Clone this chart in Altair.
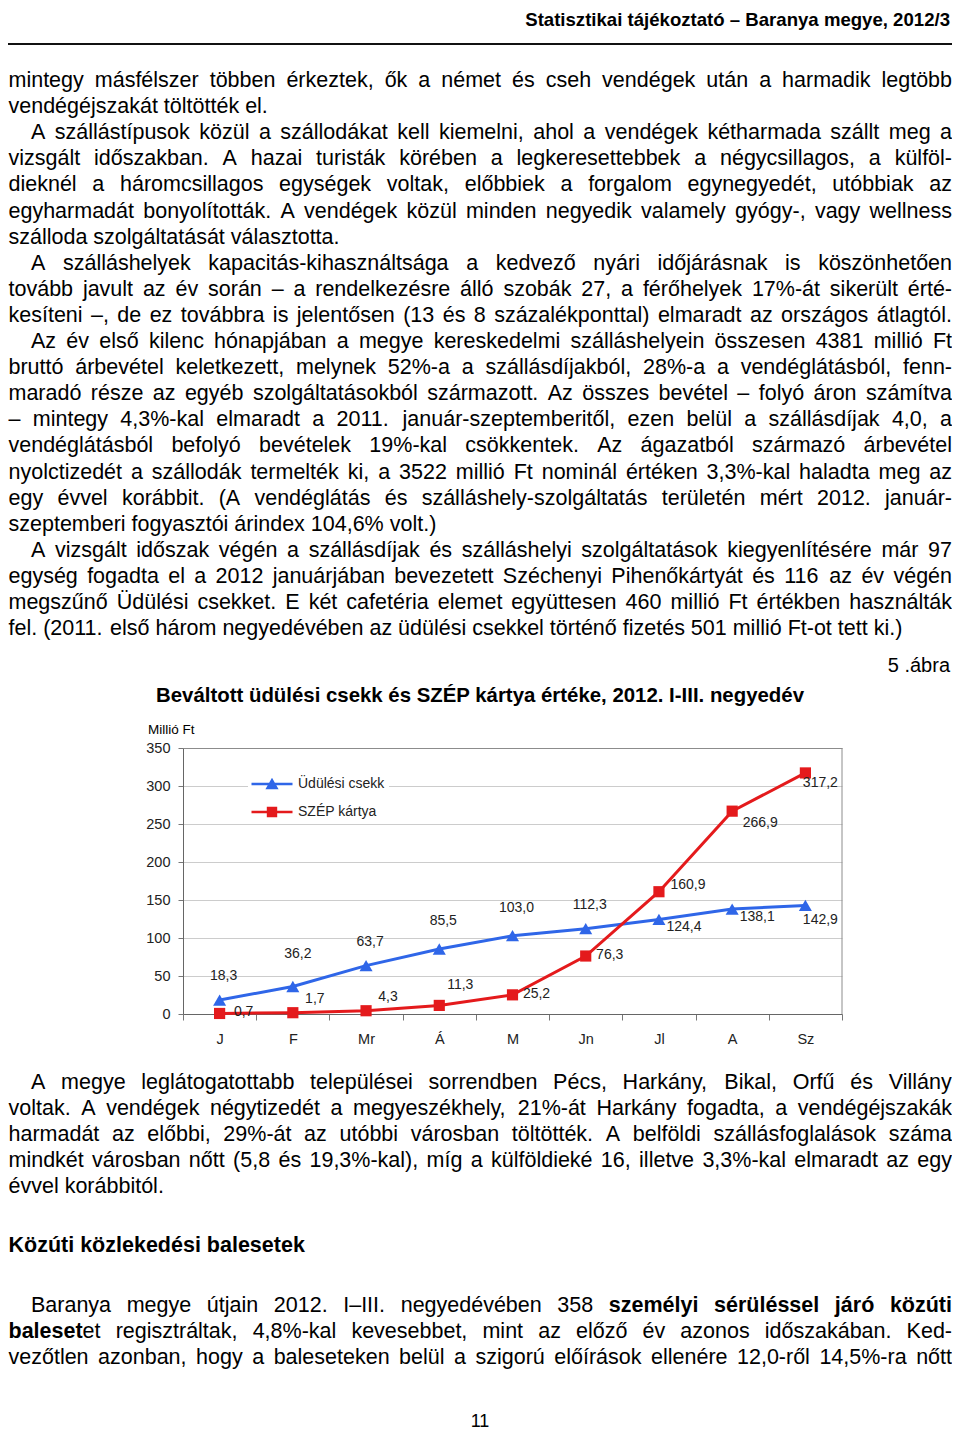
import unicodedata
import altair as alt
import pandas as pd

# ---------------- chart data ----------------
months = ["J", "F", "Mr", "Á", "M", "Jn", "Jl", "A", "Sz"]
udulesi_csekk = [18.3, 36.2, 63.7, 85.5, 103.0, 112.3, 124.4, 138.1, 142.9]
szep_kartya = [0.7, 1.7, 4.3, 11.3, 25.2, 76.3, 160.9, 266.9, 317.2]
series_names = ["Üdülési csekk", "SZÉP kártya"]
y_ticks = [0, 50, 100, 150, 200, 250, 300, 350]

# ---------------- page texts ----------------
header_text = "Statisztikai tájékoztató – Baranya megye, 2012/3"
figure_no = "5 .ábra"
chart_title = "Beváltott üdülési csekk és SZÉP kártya értéke, 2012. I-III. negyedév"
y_unit = "Millió Ft"
page_no = "11"
section_heading = "Közúti közlekedési balesetek"

upper_lines = [
    "mintegy másfélszer többen érkeztek, ők a német és cseh vendégek után a harmadik legtöbb",
    "vendégéjszakát töltötték el.",
    "A szállástípusok közül a szállodákat kell kiemelni, ahol a vendégek kétharmada szállt meg a",
    "vizsgált időszakban. A hazai turisták körében a legkeresettebbek a négycsillagos, a külföl-",
    "dieknél a háromcsillagos egységek voltak, előbbiek a forgalom egynegyedét, utóbbiak az",
    "egyharmadát bonyolították. A vendégek közül minden negyedik valamely gyógy-, vagy wellness",
    "szálloda szolgáltatását választotta.",
    "A szálláshelyek kapacitás-kihasználtsága a kedvező nyári időjárásnak is köszönhetően",
    "tovább javult az év során – a rendelkezésre álló szobák 27, a férőhelyek 17%-át sikerült érté-",
    "kesíteni –, de ez továbbra is jelentősen (13 és 8 százalékponttal) elmaradt az országos átlagtól.",
    "Az év első kilenc hónapjában a megye kereskedelmi szálláshelyein összesen 4381 millió Ft",
    "bruttó árbevétel keletkezett, melynek 52%-a a szállásdíjakból, 28%-a a vendéglátásból, fenn-",
    "maradó része az egyéb szolgáltatásokból származott. Az összes bevétel – folyó áron számítva",
    "– mintegy 4,3%-kal elmaradt a 2011. január-szeptemberitől, ezen belül a szállásdíjak 4,0, a",
    "vendéglátásból befolyó bevételek 19%-kal csökkentek. Az ágazatból származó árbevétel",
    "nyolctizedét a szállodák termelték ki, a 3522 millió Ft nominál értéken 3,3%-kal haladta meg az",
    "egy évvel korábbit. (A vendéglátás és szálláshely-szolgáltatás területén mért 2012. január-",
    "szeptemberi fogyasztói árindex 104,6% volt.)",
    "A vizsgált időszak végén a szállásdíjak és szálláshelyi szolgáltatások kiegyenlítésére már 97",
    "egység fogadta el a 2012 januárjában bevezetett Széchenyi Pihenőkártyát és 116 az év végén",
    "megszűnő Üdülési csekket. E két cafetéria elemet együttesen 460 millió Ft értékben használták",
    "fel. (2011. első három negyedévében az üdülési csekkel történő fizetés 501 millió Ft-ot tett ki.)",
]
upper_indented = [2, 7, 10, 18]
upper_ragged = [1, 6, 17, 21]

lower_lines = [
    "A megye leglátogatottabb települései sorrendben Pécs, Harkány, Bikal, Orfű és Villány",
    "voltak. A vendégek négytizedét a megyeszékhely, 21%-át Harkány fogadta, a vendégéjszakák",
    "harmadát az előbbi, 29%-át az utóbbi városban töltötték. A belföldi szállásfoglalások száma",
    "mindkét városban nőtt (5,8 és 19,3%-kal), míg a külföldieké 16, illetve 3,3%-kal elmaradt az egy",
    "évvel korábbitól.",
]
lower_indented = [0]
lower_ragged = [4]

final_lines = [
    "Baranya megye útjain 2012. I–III. negyedévében 358 **személyi sérüléssel járó közúti**",
    "**baleset**et regisztráltak, 4,8%-kal kevesebbet, mint az előző év azonos időszakában. Ked-",
    "vezőtlen azonban, hogy a baleseteken belül a szigorú előírások ellenére 12,0-ről 14,5%-ra nőtt",
]
final_indented = [0]
final_ragged = []

# ---------------- styles / layout ----------------
BODY_FONT = "Liberation Sans, Arial, sans-serif"
CHART_FONT = "Liberation Sans Narrow, Liberation Sans, Arial, sans-serif"
BODY_SIZE = 21.5
BLUE = "#2f66e8"
RED = "#e41a1c"
W, H = 944, 1424          # canvas = page minus 8px margins
M = 8                     # page margin (page px -> canvas px)

def P(v):
    return v - M

TEXT_LEFT, TEXT_RIGHT, INDENT = 0.5, P(952), P(31)

# Arial / Liberation Sans advance widths (1/1000 em)
_UP = "ABCDEFGHIJKLMNOPQRSTUVWXYZ"
_LO = "abcdefghijklmnopqrstuvwxyz"
REG = dict(zip(_UP, [667, 667, 722, 722, 667, 611, 778, 722, 278, 500, 667, 556, 833,
                     722, 778, 667, 778, 722, 667, 611, 722, 667, 944, 667, 667, 611]))
REG.update(zip(_LO, [556, 556, 500, 556, 556, 278, 556, 556, 222, 222, 500, 222, 833,
                     556, 556, 556, 556, 333, 500, 278, 556, 500, 722, 500, 500, 500]))
BLD = dict(zip(_UP, [722, 722, 722, 722, 667, 611, 778, 722, 278, 556, 722, 611, 833,
                     722, 778, 667, 778, 722, 667, 611, 722, 667, 944, 667, 667, 611]))
BLD.update(zip(_LO, [556, 611, 556, 611, 556, 333, 611, 611, 278, 278, 556, 278, 889,
                     611, 611, 611, 611, 389, 556, 333, 611, 556, 778, 556, 556, 500]))
for tbl, colon in ((REG, 278), (BLD, 333)):
    tbl.update({" ": 278, ",": 278, ".": 278, "-": 333, "(": 333, ")": 333, "%": 889,
                "/": 278, "–": 556, ":": colon, ";": colon})
    tbl.update({d: 556 for d in "0123456789"})


def char_w(ch, bold):
    tbl = BLD if bold else REG
    if ch in tbl:
        return tbl[ch]
    base = unicodedata.normalize("NFD", ch)[0]
    if base == "i":
        return 278
    return tbl.get(base, 556)


def text_w(s, bold, size):
    return sum(char_w(c, bold) for c in s) * size / 1000.0


def parse_words(line):
    words = [[]]
    for i, seg in enumerate(line.split("**")):
        bold = i % 2 == 1
        for j, part in enumerate(seg.split(" ")):
            if j > 0:
                words.append([])
            if part:
                words[-1].append((part, bold))
    return [w for w in words if w]


def layout(lines, indented, ragged, first_baseline, step, rows):
    for i, line in enumerate(lines):
        words = parse_words(line)
        x0 = INDENT if i in indented else TEXT_LEFT
        widths = [sum(text_w(t, b, BODY_SIZE) for t, b in w) for w in words]
        if i not in ragged and len(words) > 1:
            gap = (TEXT_RIGHT - x0 - sum(widths)) / (len(words) - 1)
        else:
            gap = 278 * BODY_SIZE / 1000.0
        x = x0
        y = first_baseline + step * i
        for w, ww in zip(words, widths):
            xp = x
            for t, b in w:
                rows.append({"x": xp, "y": y, "text": t, "bold": b})
                xp += text_w(t, b, BODY_SIZE)
            x += ww + gap


rows = []
layout(upper_lines, upper_indented, upper_ragged, P(87), 26.1, rows)
layout(lower_lines, lower_indented, lower_ragged, P(1089), 26.0, rows)
layout(["**" + section_heading + "**"], [], [0], P(1252), 26.0, rows)
layout(final_lines, final_indented, final_ragged, P(1312), 26.0, rows)
words_df = pd.DataFrame(rows)


def body_layer(bold):
    return (
        alt.Chart(words_df)
        .transform_filter("datum.bold" if bold else "!datum.bold")
        .mark_text(align="left", baseline="alphabetic", font=BODY_FONT,
                   fontSize=BODY_SIZE, fontWeight="bold" if bold else "normal", color="#000")
        .encode(x=alt.X("x:Q", scale=None), y=alt.Y("y:Q", scale=None), text="text:N")
    )


def single_text(txt, x, y, size, weight="normal", align="left", font=BODY_FONT):
    return (
        alt.Chart(pd.DataFrame({"t": [txt]}))
        .mark_text(align=align, baseline="alphabetic", font=font, fontSize=size,
                   fontWeight=weight, color="#000")
        .encode(x=alt.value(x), y=alt.value(y), text="t:N")
    )


header_rule = (
    alt.Chart(pd.DataFrame({"k": [0]}))
    .mark_rule(color="#111", strokeWidth=2)
    .encode(x=alt.value(0), x2=alt.value(W), y=alt.value(P(44)))
)

text_part = alt.layer(
    body_layer(False),
    body_layer(True),
    single_text(header_text, W - 2, P(26), 18.6, "bold", "right"),
    header_rule,
    single_text(figure_no, W - 2, P(672), 20, "normal", "right"),
    single_text(chart_title, P(480), P(702), 20.4, "bold", "center"),
    single_text(y_unit, P(148), P(734), 13.5, "normal", "left", CHART_FONT),
    single_text(page_no, P(480), P(1427), 18, "normal", "center"),
)

# ---------------- the line chart ----------------
def fmt(v):
    return f"{v:.1f}".replace(".", ",")

chart_rows = []
for name, vals in zip(series_names, [udulesi_csekk, szep_kartya]):
    for m, v in zip(months, vals):
        chart_rows.append({"month": m, "series": name, "value": v, "label": fmt(v)})
df = pd.DataFrame(chart_rows)

x_enc = alt.X(
    "month:N", sort=months,
    scale=alt.Scale(domain=months, range=[P(183), P(842)], paddingInner=0, paddingOuter=0),
    axis=alt.Axis(title=None, labelAngle=0, tickBand="extent", offset=-(H - P(1014)),
                  labelFont=CHART_FONT, labelFontSize=14.5, labelColor="#222",
                  tickColor="#777", tickSize=6, labelPadding=12, domainColor="#666",
                  grid=False),
)
y_enc = alt.Y(
    "value:Q",
    scale=alt.Scale(domain=[0, 350], range=[P(1014), P(748)], nice=False),
    axis=alt.Axis(title=None, values=y_ticks, offset=-P(183), grid=True,
                  gridColor=alt.condition("datum.value === 350", alt.value("#8c8c8c"),
                                          alt.value("#cccccc")),
                  tickSize=5, tickColor="#777", domainColor="#666", labelPadding=8,
                  labelFont=CHART_FONT, labelFontSize=14.5, labelColor="#222"),
)

# legend symbols: a short line with the marker on it (custom SVG paths)
TRI = "M-2.05,-0.13L2.05,-0.13L2.05,0.13L-2.05,0.13Z M0,-0.62L0.66,0.52L-0.66,0.52Z"
SQR = "M-2.05,-0.13L2.05,-0.13L2.05,0.13L-2.05,0.13Z M-0.52,-0.52L0.52,-0.52L0.52,0.52L-0.52,0.52Z"
legend = alt.Legend(
    title=None, orient="none", legendX=P(248), legendY=P(770), fillColor="white",
    padding=4, symbolSize=400, symbolStrokeWidth=0, symbolOffset=10, symbolOpacity=1,
    labelFont=CHART_FONT, labelFontSize=14, labelColor="#222", labelOffset=16,
    rowPadding=11, direction="vertical",
)
color_enc = alt.Color("series:N", scale=alt.Scale(domain=series_names, range=[BLUE, RED]),
                      legend=legend)
shape_enc = alt.Shape("series:N", scale=alt.Scale(domain=series_names, range=[TRI, SQR]),
                      legend=legend)

base = alt.Chart(df)


def only(series):
    return f"datum.series === '{series}'"


line_u = base.transform_filter(only(series_names[0])).mark_line(color=BLUE, strokeWidth=3).encode(x=x_enc, y=y_enc)
line_s = base.transform_filter(only(series_names[1])).mark_line(color=RED, strokeWidth=3).encode(x=x_enc, y=y_enc)
pts_u = (base.transform_filter(only(series_names[0]))
         .mark_point(shape="triangle-up", filled=True, size=170, opacity=1, color=BLUE)
         .encode(x=x_enc, y=y_enc))
pts_s = (base.transform_filter(only(series_names[1]))
         .mark_point(shape="square", filled=True, size=125, opacity=1, color=RED)
         .encode(x=x_enc, y=y_enc))
legend_src = (base.mark_point(filled=True, opacity=0, size=400)
              .encode(x=x_enc, y=y_enc, color=color_enc, shape=shape_enc))

label_groups = [
    (series_names[0], ["J", "Mr", "Jn"], 4, -24),
    (series_names[0], ["F"], 5, -32),
    (series_names[0], ["Á", "M"], 4, -28),
    (series_names[0], ["Jl", "A"], 25, 8),
    (series_names[0], ["Sz"], 15, 15),
    (series_names[1], ["J", "M", "Jn"], 24, -1),
    (series_names[1], ["F", "Mr"], 22, -14),
    (series_names[1], ["Á"], 21, -20),
    (series_names[1], ["Jl"], 29, -7),
    (series_names[1], ["A"], 28, 12),
    (series_names[1], ["Sz"], 15, 10),
]
label_layers = []
for s, ms, dx, dy in label_groups:
    arr = "[" + ",".join(f"'{m}'" for m in ms) + "]"
    label_layers.append(
        base.transform_filter(f"{only(s)} && indexof({arr}, datum.month) >= 0")
        .mark_text(dx=dx, dy=dy, font=CHART_FONT, fontSize=14, color="#222")
        .encode(x=x_enc, y=y_enc, text="label:N")
    )

border = (
    alt.Chart(pd.DataFrame({"k": [0]}))
    .mark_rule(color="#8c8c8c", strokeWidth=1)
    .encode(x=alt.XDatum("Sz", type="nominal", bandPosition=1),
            y=alt.YDatum(0), y2=alt.Y2Datum(350))
)

chart_part = alt.layer(line_u, line_s, border, legend_src, pts_u, pts_s, *label_layers)

chart = (
    alt.layer(chart_part, text_part)
    .resolve_scale(x="independent", y="independent")
    .properties(width=W, height=H, padding=0, autosize=alt.AutoSizeParams(type="none"),
                background="white")
    .configure_view(stroke=None)
)

chart.save("out.html", embed_options={"renderer": "svg", "actions": False})
